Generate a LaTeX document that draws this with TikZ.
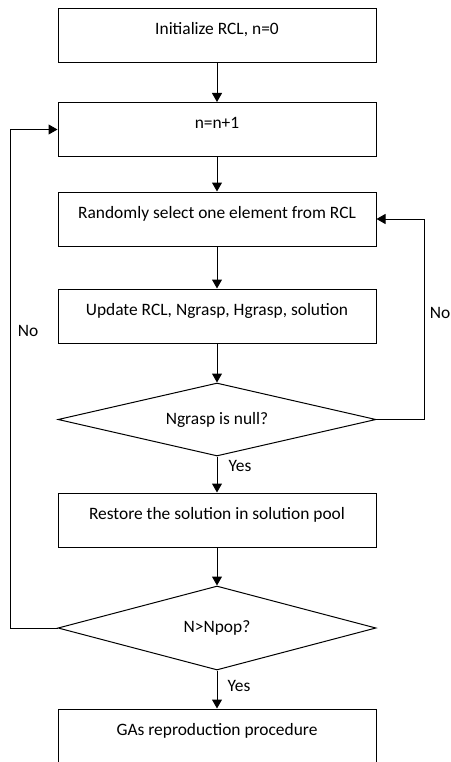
\documentclass[tikz,border=0pt]{standalone}
\usepackage{fontspec}
\setmainfont{Carlito}
\usetikzlibrary{shapes.geometric,arrows.meta}

\begin{document}
\begin{tikzpicture}[x=1pt,y=-1pt,line width=1pt,>={Triangle[width=10pt,length=9pt]},
  font=\fontsize{17.4}{20}\selectfont,
  box/.style={draw,rectangle,minimum width=318pt,minimum height=54pt,text height=10pt,text depth=12pt},
  test/.style={draw,diamond,aspect=4,inner sep=0pt,minimum width=318pt}]
\useasboundingbox (0,0) rectangle (450,762);

\node[name=init,box] at (217,36) {Initialize RCL, n=0};
\node[name=incr,box] at (217,129.5) {n=n+1};
\node[name=pick,box] at (217,219) {Randomly select one element from RCL};
\node[name=upd,box] at (217,316) {Update RCL, Ngrasp, Hgrasp, solution};
\node[name=null,test,minimum height=73pt] at (217,419.5) {Ngrasp is null?};
\node[name=store,box] at (217,520) {Restore the solution in solution pool};
\node[name=pop,test,minimum height=84pt] at (217,628) {N>Npop?};
\node[name=ga,box] at (217,736) {GAs reproduction procedure};

\coordinate (r) at (424,419.5);
\coordinate (l) at (10,628);

\node[draw=none] at (440,313) {No};
\node[draw=none] at (28,331) {No};
\node[draw=none] at (240,466) {Yes};
\node[draw=none] at (239,686) {Yes};

\draw[->] (init) to (incr);
\draw[->] (incr) to (pick);
\draw[->] (pick) to (upd);
\draw[->] (upd) to (null);
\draw[->] (null) to (store);
\draw[->] (store) to (pop);
\draw[->] (pop) to (ga);
\draw[->] (null.east) -- (r) |- (pick.east);
\draw[->] (pop.west) -- (l) |- (incr.west);
\end{tikzpicture}
\end{document}
